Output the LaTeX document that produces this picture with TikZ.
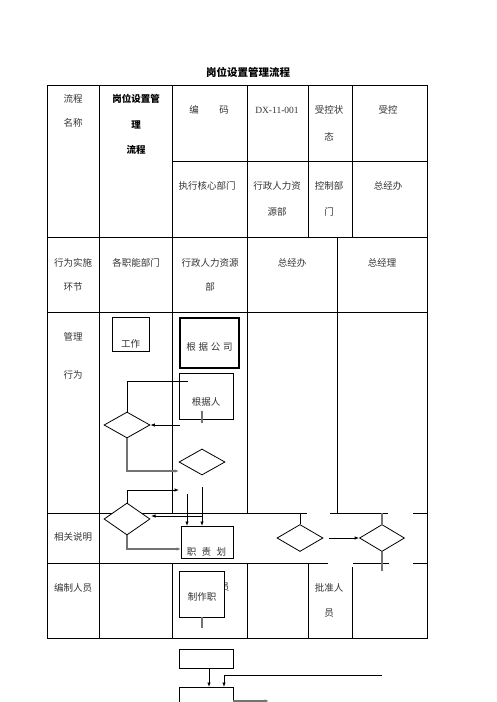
\documentclass[tikz,border=0pt]{standalone}
\usepackage{fontspec}
\setmainfont{Liberation Serif}
\newfontfamily\cjk{Noto Sans CJK SC}
\usetikzlibrary{shapes.geometric,arrows.meta,calc}
\begin{document}
\begin{tikzpicture}[x=1pt,y=-1pt,
  tline/.style={line width=0.8pt,black},
  conn/.style={line width=0.8pt,black},
  arr/.style={conn,-{Latex[length=4.5pt,width=3.5pt]}},
  gline/.style={line width=1.5pt,black!55},
  garr/.style={gline,-{Latex[length=4.5pt,width=3.5pt]}},
  txt/.style={font=\cjk\fontsize{9.5}{11}\selectfont,text=black!80,inner sep=0pt},
  mtxt/.style={txt,align=center,font=\cjk\fontsize{9.5}{#1}\selectfont},
  boxn/.style={draw,line width=0.8pt,fill=white,inner sep=0pt},
  dia/.style={diamond,draw,fill=white,line width=0.8pt,inner sep=0pt,minimum width=46pt,minimum height=#1},
  dia/.default=26pt]
\useasboundingbox (0,0) rectangle (496,702);

% title
\node[txt,font=\cjk\bfseries\fontsize{10.5}{12}\selectfont,text=black] (title) at (248,72) {岗位设置管理流程};

% ---------------- table frame ----------------
\draw[tline] (47,85) rectangle (427,638);
\draw[tline] (172,161) -- (427,161);
\draw[tline] (47,237) -- (427,237);
\draw[tline] (47,312) -- (427,312);
\draw[tline] (47,513) -- (307,513);
\draw[tline] (330,513) -- (388,513);
\draw[tline] (413,513) -- (427,513);
\draw[tline] (47,563) -- (328,563);
\draw[tline] (353,563) -- (389,563);
\draw[tline] (413,563) -- (427,563);
% verticals
\draw[tline] (99,85) -- (99,638);
\draw[tline] (172,85) -- (172,513);
\draw[tline] (172,563) -- (172,638);
\draw[tline] (247,85) -- (247,513);
\draw[tline] (247,563) -- (247,638);
\draw[tline] (308,85) -- (308,237);
\draw[tline] (352,85) -- (352,237);
\draw[tline] (337,237) -- (337,513);
\draw[tline] (308,563) -- (308,638);
\draw[tline] (352,567) -- (352,638);

% ---------------- table texts ----------------
\node[mtxt=24pt] (t11) at (73,111) {流程\\名称};
\node[mtxt=25.5pt,font=\cjk\bfseries\fontsize{9.5}{25.5}\selectfont,text=black] (t12) at (136,124.5) {岗位设置管\\理\\流程};
\node[txt] (t13a) at (194,110) {编};
\node[txt] (t13b) at (224,110) {码};
\node[txt,font=\fontsize{9.5}{11}\selectfont] (t14) at (277,110) {DX-11-001};
\node[mtxt=27pt] (t15) at (329,123.5) {受控状\\态};
\node[txt] (t16) at (388,110) {受控};
\node[txt] (t23) at (207,186) {执行核心部门};
\node[mtxt=26pt] (t24) at (277,199) {行政人力资\\源部};
\node[mtxt=26pt] (t25) at (329,199) {控制部\\门};
\node[txt] (t26) at (388,186) {总经办};

\node[mtxt=24pt] (r21) at (73,275) {行为实施\\环节};
\node[txt] (r22) at (136,263) {各职能部门};
\node[mtxt=24pt] (r23) at (210,275) {行政人力资源\\部};
\node[txt] (r24) at (292,263) {总经办};
\node[txt] (r25) at (382,263) {总经理};

\node[mtxt=38pt] (r31) at (73,356) {管理\\行为};
\node[txt] (r41) at (73,537) {相关说明};
\node[txt] (r51) at (73,588) {编制人员};
\node[txt] (r53) at (224.5,587) {员};
\node[mtxt=25pt] (r55) at (329,600.5) {批准人\\员};

% ---------------- boxes ----------------
\node[boxn,minimum width=37pt,minimum height=34pt] (bgz) at (130.5,334) {};
\node[txt] (bgzt) at (130.5,344) {工作};
\node[boxn,line width=2pt,minimum width=59pt,minimum height=50pt] (bgs) at (209,342.5) {};
\node[txt] (bgst) at (209.5,347) {根\hspace{2.8pt}据\hspace{2.8pt}公\hspace{2.8pt}司};
\node[boxn,minimum width=54pt,minimum height=46pt] (bgr) at (206,396) {};
\node[txt] (bgrt) at (206,402) {根据人};
\node[boxn,minimum width=52pt,minimum height=32pt] (bzz) at (207,542) {};
\node[txt] (bzzt) at (206.5,552) {职\hspace{5.5pt}责\hspace{5.5pt}划};
\node[boxn,minimum width=45pt,minimum height=46pt] (bzp) at (201.5,594) {};
\node[txt] (bzpt) at (202,597) {制作职};
\node[boxn,minimum width=54pt,minimum height=19pt] (b6) at (206,658.5) {};
\draw[line width=0.8pt] (179,720) coordinate (b7bl) |- (233,687) coordinate (b7tr) -- (233,720) coordinate (b7br);
\coordinate (b7) at (206,687);

% ---------------- diamonds ----------------
\node[dia] (d1) at (127,425) {};
\node[dia] (d2) at (202,462) {};
\node[dia=32pt] (d3) at (127,519) {};
\node[dia=27pt] (d4) at (300,538) {};
\node[dia=27pt,minimum width=45pt] (d5) at (382,538) {};

% ---------------- connectors ----------------
\coordinate (c1) at (188,381);
\draw[conn] (c1) -| (d1.north);
\coordinate (c2) at (180,425);
\draw[arr] (c2) -- (d1.east);
\coordinate (g1a) at (202,411);
\coordinate (g1b) at (202,423);
\draw[gline] (g1a) -- (g1b);
\coordinate (c3) at (179,471);
\draw[garr] (d1.south) |- (c3);
\coordinate (c4) at (179,490);
\draw[arr] (d3.north) |- (c4);
\coordinate (c5a) at (187,494);
\coordinate (c5b) at (187,526);
\draw[arr] (c5a) -- (c5b);
\coordinate (c6a) at (202,487);
\coordinate (c6b) at (202,526);
\draw[arr] (c6a) -- (c6b);
\coordinate (c7a) at (202,516);
\coordinate (c7b) at (151,516);
\draw[arr] (c7a) -- (c7b);
\coordinate (c8) at (181,549);
\draw[garr] (d3.south) |- (c8);
\coordinate (c9) at (300,513);
\draw[conn] (c9) -- (d4.north);
\coordinate (c10) at (329,538);
\draw[arr] (c10) -- (d5.west);
\coordinate (g5a) at (382,513);
\coordinate (g5b) at (382,571);
\draw[gline] (g5a) -- (d5.north);
\draw[gline] (d5.south) -- (g5b);
\coordinate (g6a) at (202,617);
\coordinate (g6b) at (202,628);
\draw[gline] (g6a) -- (g6b);
% below table
\coordinate (c11a) at (209,668);
\coordinate (c11b) at (209,687);
\draw[arr] (c11a) -- (c11b);
\coordinate (c12a) at (382,675);
\coordinate (c12b) at (224,687);
\draw[arr] (c12a) -| (c12b);
\coordinate (c13a) at (233,701);
\coordinate (c13b) at (269,701);
\draw[garr] (c13a) -- (c13b);
\end{tikzpicture}
\end{document}
